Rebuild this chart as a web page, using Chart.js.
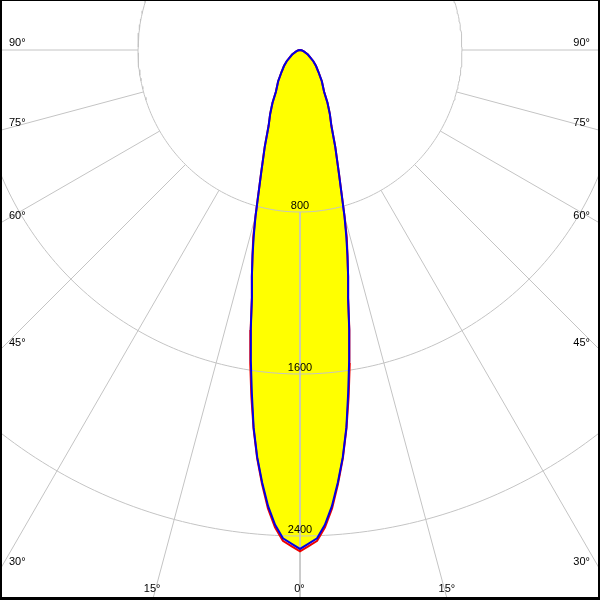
<!DOCTYPE html>
<html>
<head>
<meta charset="utf-8">
<script src="https://cdn.jsdelivr.net/npm/chart.js@4/dist/chart.umd.min.js"></script>
<style>
html, body { margin: 0; padding: 0; background: #fff; overflow: hidden; }
#wrap { width: 600px; height: 600px; }
</style>
</head>
<body>
<div id="wrap"><canvas id="polar" width="600" height="600"></canvas></div>
<script>
// gamma = angle from nadir (deg), values in cd
var gammaAngles = [0, 1, 2, 3, 4, 5, 6, 7, 8, 9, 10, 11, 12, 13, 14, 15, 17.5, 20, 22.5, 25, 27.5, 30, 35, 40, 45, 50, 60, 70, 80, 90];
var planeC0C180 = [2476, 2450, 2425, 2360, 2270, 2152, 2026, 1883, 1727, 1570, 1404, 1246, 1143, 1043, 955, 850, 640, 510, 405, 349, 294, 238, 188, 142, 112, 86, 45, 20, 8, 0];
var planeC90C270 = [2464, 2438, 2413, 2348, 2258, 2144, 2022, 1879, 1709, 1552, 1399, 1244, 1143, 1042, 943, 848, 639, 509, 405, 349, 294, 238, 188, 142, 112, 86, 45, 20, 8, 0];

var ringValues = [800, 1600, 2400, 3200];
var ringLabels = ["800", "1600", "2400", ""];
var spokeAngles = [-90, -75, -60, -45, -30, -15, 0, 15, 30, 45, 60, 75, 90];
var spokeLabels = ["90°", "75°", "60°", "45°", "30°", "15°", "0°", "15°", "30°", "45°", "60°", "75°", "90°"];

var PX = 162 / 800;     // pixels per cd
var CX = 300, CY = 50;  // pole position on the canvas

function toXY(deg, val) {
    var a = deg * Math.PI / 180;
    return {x: val * Math.sin(a), y: -val * Math.cos(a)};
}

// left half goes C180 / C270 side, right half C0 / C90 side
function curve(vals) {
    var pts = [];
    for (var i = gammaAngles.length - 1; i >= 0; i--) pts.push(toXY(-gammaAngles[i], vals[i]));
    for (var j = 1; j < gammaAngles.length; j++) pts.push(toXY(gammaAngles[j], vals[j]));
    return pts;
}

var gridColor = "#c4c4c4";
var datasets = [];

datasets.push({
    data: curve(planeC90C270),
    showLine: true, borderColor: "#0000e6", borderWidth: 2, pointRadius: 0,
    tension: 0, fill: false
});
datasets.push({
    data: curve(planeC0C180),
    showLine: true, borderColor: "#ee0000", borderWidth: 2, pointRadius: 0,
    tension: 0, fill: false
});

ringValues.forEach(function(r) {
    var pts = [];
    for (var d = 0; d <= 360; d += 1) pts.push(toXY(d, r));
    datasets.push({data: pts, showLine: true, borderColor: gridColor, borderWidth: 1, pointRadius: 0, fill: false});
});

spokeAngles.forEach(function(a) {
    datasets.push({
        data: [toXY(a, ringValues[0]), toXY(a, ringValues[ringValues.length - 1])],
        showLine: true, borderColor: gridColor, borderWidth: 1, pointRadius: 0, fill: false
    });
});

// yellow body, drawn first (last index)
datasets.push({
    data: curve(planeC90C270),
    showLine: true, borderColor: "rgba(0,0,0,0)", borderWidth: 0, pointRadius: 0,
    tension: 0, backgroundColor: "#ffff00", fill: "shape"
});

var labelsPlugin = {
    id: "polarLabels",
    afterDraw: function(chart) {
        var ctx = chart.ctx;
        var area = chart.chartArea;
        var xs = chart.scales.x, ys = chart.scales.y;
        var cx = xs.getPixelForValue(0), cy = ys.getPixelForValue(0);
        ctx.save();
        ctx.fillStyle = "#000";
        ctx.font = "11px 'Liberation Sans', Arial, sans-serif";
        ctx.textBaseline = "alphabetic";

        // ring values along the 0 deg line
        ctx.textAlign = "center";
        ringValues.forEach(function(r, i) {
            if (!ringLabels[i]) return;
            ctx.fillText(ringLabels[i], cx, ys.getPixelForValue(-r) - 3);
        });

        // angle labels where each spoke leaves the frame
        spokeAngles.forEach(function(a, i) {
            var rad = a * Math.PI / 180;
            var dx = Math.sin(rad), dy = Math.cos(rad);
            var tSide = Infinity, tBottom = Infinity;
            if (dx < -1e-9) tSide = (area.left - cx) / dx;
            if (dx > 1e-9) tSide = (area.right - cx) / dx;
            if (dy > 1e-9) tBottom = (area.bottom - cy) / dy;
            if (tBottom <= tSide) {
                ctx.textAlign = "center";
                ctx.fillText(spokeLabels[i], cx + dx * tBottom - 0.5, area.bottom - 8);
            } else {
                var py = cy + dy * tSide;
                if (dx < 0) {
                    ctx.textAlign = "left";
                    ctx.fillText(spokeLabels[i], area.left + 9, py - 4.5);
                } else {
                    ctx.textAlign = "right";
                    ctx.fillText(spokeLabels[i], area.right - 10, py - 4.5);
                }
            }
        });

        // frame
        ctx.fillRect(0, 0, 600, 1);
        ctx.fillRect(0, 0, 2, 600);
        ctx.fillRect(598, 0, 2, 600);
        ctx.fillRect(0, 597, 600, 3);
        ctx.restore();
    }
};

new Chart(document.getElementById("polar"), {
    type: "scatter",
    data: {datasets: datasets},
    options: {
        responsive: false,
        animation: false,
        events: [],
        layout: {padding: 0},
        scales: {
            x: {type: "linear", display: false, min: -CX / PX, max: (600 - CX) / PX},
            y: {type: "linear", display: false, min: -(600 - CY) / PX, max: CY / PX}
        },
        plugins: {legend: {display: false}, tooltip: {enabled: false}}
    },
    plugins: [labelsPlugin]
});
</script>
</body>
</html>
